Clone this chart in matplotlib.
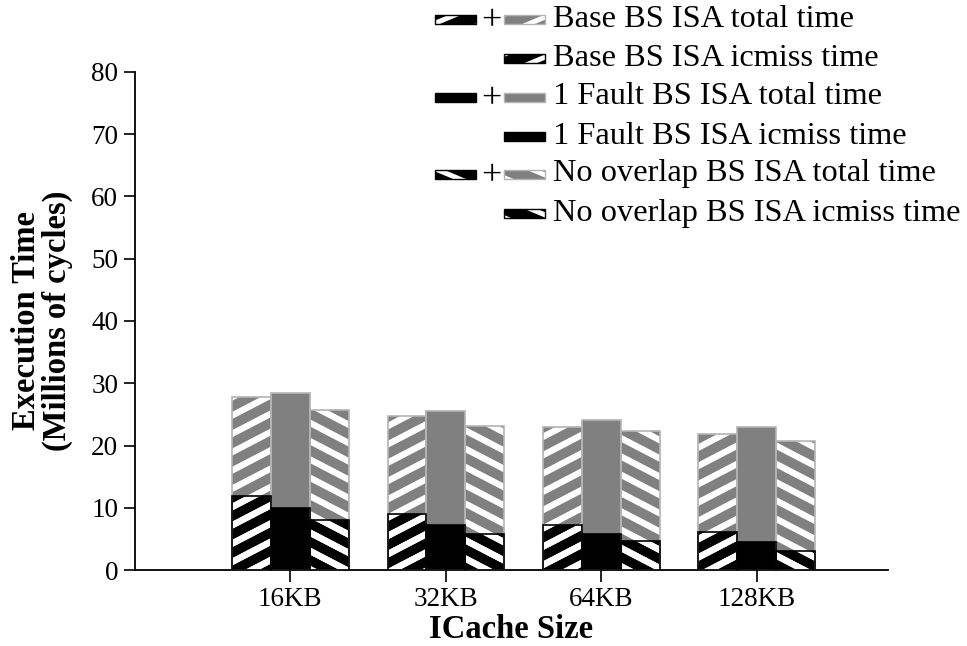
import matplotlib
matplotlib.use("Agg")
import matplotlib.pyplot as plt
import numpy as np
from matplotlib.patches import Rectangle
from matplotlib.lines import Line2D

plt.rcParams["font.family"] = ["Liberation Serif", "DejaVu Serif"]

sizes = ["16KB", "32KB", "64KB", "128KB"]

# millions of cycles
base_total = [27.8, 24.7, 22.9, 21.8]
base_icmiss = [11.9, 9.0, 7.2, 6.1]
fault_total = [28.4, 25.6, 24.1, 22.9]
fault_icmiss = [9.9, 7.3, 5.8, 4.5]
nolap_total = [25.7, 23.2, 22.3, 20.7]
nolap_icmiss = [8.0, 5.8, 4.6, 3.1]

GRAY = "#808080"
EDGE_GRAY = "#b4b4b4"

fig = plt.figure(figsize=(9.67, 6.46), dpi=100)
ax = fig.add_axes([135 / 967, 1 - 570 / 646, 753 / 967, 498 / 646])

x = np.arange(1, len(sizes) + 1)
w = 0.25


def stripe(axis, patch, sign, gap=18.3, slope=0.52, lw=4.6, zorder=3):
    """White diagonal stripes over a bar, clipped to the bar."""
    tr = axis.transData
    x0, y0 = patch.get_x(), patch.get_y()
    x1, y1 = x0 + patch.get_width(), y0 + patch.get_height()
    (px0, py0), (px1, py1) = tr.transform([(x0, y0), (x1, y1)])
    pxl, pxr = min(px0, px1) - 10, max(px0, px1) + 10
    pyb, pyt = min(py0, py1), max(py0, py1)
    # lines y = sign*slope*x + c in pixel space, c on a global grid
    cs = [sign * slope * pxl, sign * slope * pxr]
    cmin = pyb - max(cs) - gap
    cmax = pyt - min(cs) + gap
    for k in range(int(np.floor(cmin / gap)), int(np.ceil(cmax / gap)) + 1):
        c = k * gap
        pts = np.array([(pxl, sign * slope * pxl + c), (pxr, sign * slope * pxr + c)])
        d = tr.inverted().transform(pts)
        ln = Line2D(d[:, 0], d[:, 1], color="white", lw=lw,
                    solid_capstyle="butt", zorder=zorder)
        axis.add_line(ln)
        ln.set_clip_path(patch)


ax.set_xlim(0, 4.845)
ax.set_ylim(0, 80)

groups = [
    (x - w, base_total, base_icmiss, 1),
    (x, fault_total, fault_icmiss, 0),
    (x + w, nolap_total, nolap_icmiss, -1),
]
for pos, total, icmiss, sign in groups:
    tb = ax.bar(pos, total, w, color=GRAY, edgecolor="none", zorder=2)
    ib = ax.bar(pos, icmiss, w, color="black", edgecolor="none", zorder=2)
    if sign:
        for p in list(tb) + list(ib):
            stripe(ax, p, sign)
    # outlines drawn on top of the stripes
    ax.bar(pos, total, w, fill=False, edgecolor=EDGE_GRAY, lw=1.2, zorder=4)
    ax.bar(pos, icmiss, w, fill=False, edgecolor="black", lw=1.2, zorder=5)

ax.spines["top"].set_visible(False)
ax.spines["right"].set_visible(False)
ax.spines["left"].set_linewidth(1.3)
ax.spines["bottom"].set_linewidth(1.3)
ax.set_yticks(range(0, 81, 10))
ax.set_xticks(x)
ax.set_xticklabels(sizes)
ax.tick_params(axis="y", direction="out", length=8, width=1.2, pad=4, labelsize=19.5)
ax.tick_params(axis="x", direction="out", length=8.6, width=1.2, pad=3.5, labelsize=19.5)

fig.text(511 / 967, 1 - 629 / 646, "ICache Size", ha="center", va="center",
         fontsize=23.5, fontweight="bold")
fig.text(42 / 967, 1 - 321 / 646, "Execution Time\n(Millions of cycles)",
         ha="center", va="center", rotation=90, fontsize=23.5,
         fontweight="bold", multialignment="center", linespacing=0.95)

# legend drawn on an overlay in pixel coordinates
lg = fig.add_axes([0, 0, 1, 1], zorder=10)
lg.set_xlim(0, 967)
lg.set_ylim(646, 0)
lg.axis("off")

legend_rows = [
    ("Base BS ISA total time", 1, True),
    ("Base BS ISA icmiss time", 1, False),
    ("1 Fault BS ISA total time", 0, True),
    ("1 Fault BS ISA icmiss time", 0, False),
    ("No overlap BS ISA total time", -1, True),
    ("No overlap BS ISA icmiss time", -1, False),
]
row_y = [19.5, 58, 97, 136, 174, 213]
sw_w, sw_h = 41, 9


def swatch(x0, yc, face, edge, sign):
    r = Rectangle((x0, yc - sw_h / 2), sw_w, sw_h, facecolor=face,
                  edgecolor="none", zorder=2)
    lg.add_patch(r)
    if sign:
        stripe(lg, r, sign, gap=20, slope=0.42, lw=3.6)
    lg.add_patch(Rectangle((x0, yc - sw_h / 2), sw_w, sw_h, fill=False,
                           edgecolor=edge, lw=1.0, zorder=4))


for (label, sign, is_total), yc in zip(legend_rows, row_y):
    if is_total:
        swatch(435, yc, "black", "black", sign)
        lg.text(491.5, yc + 2.5, "+", ha="center", va="center", fontsize=26)
        swatch(504, yc, GRAY, EDGE_GRAY, sign)
    else:
        swatch(504, yc, "black", "black", sign)
    lg.text(553, yc, label, ha="left", va="center", fontsize=23.3)

fig.savefig("out.png", dpi=100)
